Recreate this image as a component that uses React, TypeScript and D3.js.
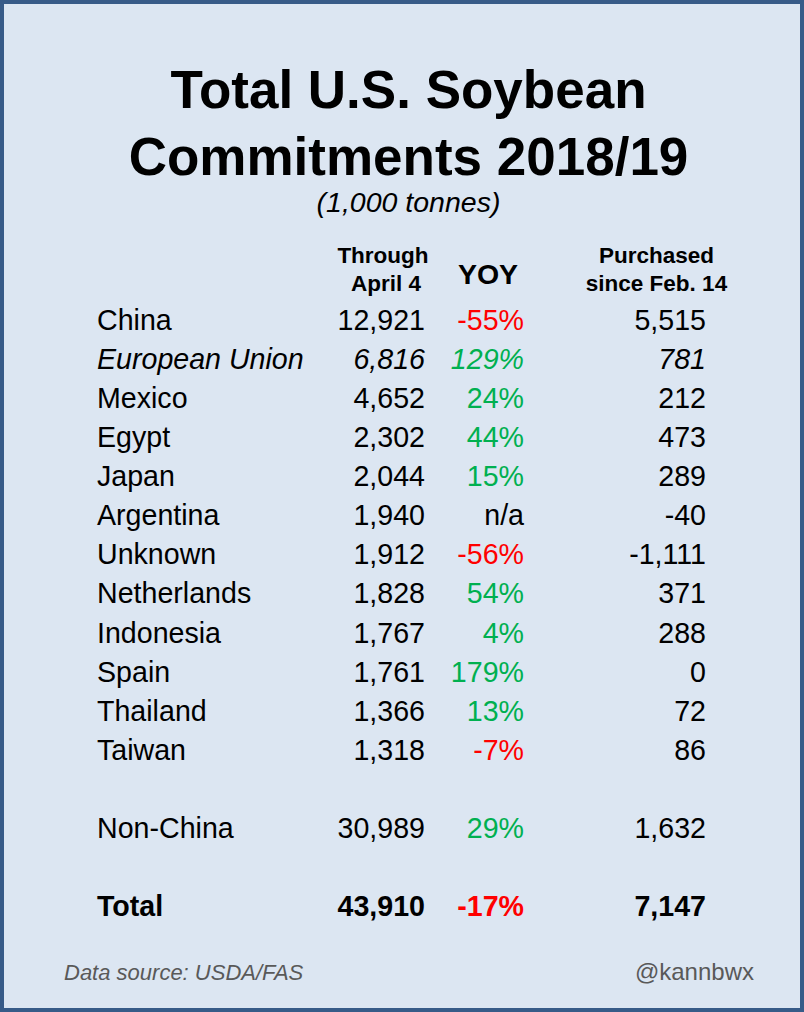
import React from "react";
import * as d3 from "d3";

const countries = ["China", "European Union", "Mexico", "Egypt", "Japan", "Argentina", "Unknown", "Netherlands", "Indonesia", "Spain", "Thailand", "Taiwan", "Non-China", "Total"];
const throughApril4 = [12921, 6816, 4652, 2302, 2044, 1940, 1912, 1828, 1767, 1761, 1366, 1318, 30989, 43910];
const yoy: (number | null)[] = [-55, 129, 24, 44, 15, null, -56, 54, 4, 179, 13, -7, 29, -17];
const purchasedSinceFeb14 = [5515, 781, 212, 473, 289, -40, -1111, 371, 288, 0, 72, 86, 1632, 7147];
const rowSlots = [0, 1, 2, 3, 4, 5, 6, 7, 8, 9, 10, 11, 13, 15];
const italicRows = ["European Union"];
const boldRows = ["Total"];

const W = 804;
const H = 1012;
const FONT = "'Liberation Sans', Arial, Helvetica, sans-serif";

export default function App() {
  const y = d3.scaleLinear().domain([0, 15]).range([330, 916]);
  const colX = d3.scaleOrdinal<string, number>()
    .domain(["country", "through", "yoy", "purchased"])
    .range([97, 425, 524, 706]);
  const fmt = d3.format(",");
  const red = "#ff0000";
  const green = "#00b050";

  return (
    <svg width={W} height={H} style={{ position: "absolute", left: 0, top: 0, display: "block" }} fontFamily={FONT}>
      <rect x={2} y={2} width={W - 4} height={H - 4} fill="#dce6f2" stroke="#375b88" strokeWidth={4} />
      <text x={408.5} y={108} textAnchor="middle" fontSize={53} fontWeight="bold" fill="#000">Total U.S. Soybean</text>
      <text x={408.5} y={175} textAnchor="middle" fontSize={53} fontWeight="bold" fill="#000">Commitments 2018/19</text>
      <text x={408.5} y={212} textAnchor="middle" fontSize={28.5} fontStyle="italic" fill="#000">(1,000 tonnes)</text>

      <g fontWeight="bold" fontSize={22.5} textAnchor="middle" fill="#000">
        <text x={383} y={263}>Through</text>
        <text x={386} y={291}>April 4</text>
        <text x={488} y={284} fontSize={28.5}>YOY</text>
        <text x={656.5} y={263}>Purchased</text>
        <text x={656.5} y={291}>since Feb. 14</text>
      </g>

      <g fontSize={28.6} fill="#000">
        {countries.map((c, i) => {
          const yy = y(rowSlots[i]);
          const it = italicRows.includes(c);
          const bd = boldRows.includes(c);
          const v = yoy[i];
          return (
            <g key={c} fontStyle={it ? "italic" : "normal"} fontWeight={bd ? "bold" : "normal"}>
              <text x={colX("country")} y={yy}>{c}</text>
              <text x={colX("through")} y={yy} textAnchor="end">{fmt(throughApril4[i])}</text>
              <text x={colX("yoy")} y={yy} textAnchor="end" fill={v === null ? "#000" : v < 0 ? red : green}>
                {v === null ? "n/a" : `${v}%`}
              </text>
              <text x={colX("purchased")} y={yy} textAnchor="end">{fmt(purchasedSinceFeb14[i]).replace("−", "-")}</text>
            </g>
          );
        })}
      </g>

      <text x={64} y={980} fontSize={22} fontStyle="italic" fill="#595959">Data source: USDA/FAS</text>
      <text x={754} y={980} fontSize={24} textAnchor="end" fill="#595959">@kannbwx</text>
    </svg>
  );
}
